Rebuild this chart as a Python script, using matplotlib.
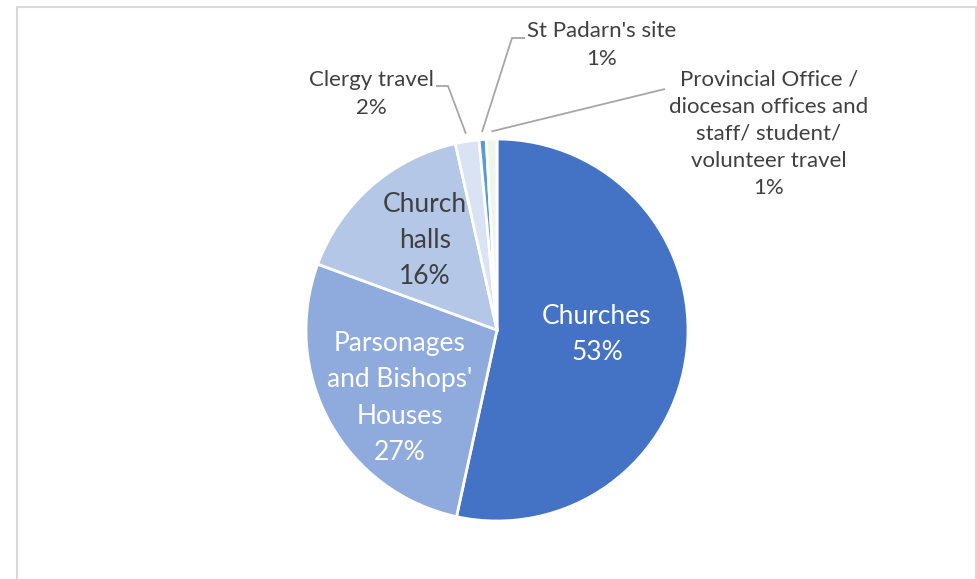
import matplotlib
matplotlib.use('Agg')
import matplotlib.pyplot as plt
from matplotlib.patches import Rectangle
import numpy as np

categories = ["Churches", "Parsonages\nand Bishops'\nHouses", "Church\nhalls",
              "Clergy travel", "St Padarn's site",
              "Provincial Office /\ndiocesan offices and\nstaff/ student/\nvolunteer travel"]
shares = [53.4, 27.2, 15.9, 2.0, 0.6, 0.9]
colors = ['#4472C4', '#8FAADC', '#B4C7E7', '#DAE3F3', '#5B9BD5', '#EEF6EA']

plt.rcParams['font.family'] = ['Lato', 'DejaVu Sans']

W, H = 978, 579
CX, CY, R = 497, 330, 191  # pie centre / radius in pixels (y from top)

fig = plt.figure(figsize=(W / 100, H / 100), dpi=100)
ax = fig.add_axes([0, 0, 1, 1])

wedges, _ = ax.pie(shares, colors=colors, startangle=90, counterclock=False,
                   radius=1, wedgeprops=dict(edgecolor='white', linewidth=2))
ax.set_xlim(-CX / R, (W - CX) / R)
ax.set_ylim(-(H - CY) / R, CY / R)
ax.set_aspect('equal')
ax.axis('off')


def px(x, y):
    return (x - CX) / R, (CY - y) / R


def pct(v):
    return '%d%%' % round(v)


# labels inside the pie
inside = {0: (597, 334, 'white'), 1: (400, 398, 'white'), 2: (425, 241, '#404040')}
for i, (x, y, c) in inside.items():
    ax.text(*px(x, y), categories[i] + '\n' + pct(shares[i]), ha='center', va='center',
            color=c, fontsize=19, linespacing=1.55)

# outside labels with leader lines
outside = {3: ((371, 94), [(436, 86), (448, 86)]),
           4: ((602, 45), [(525, 38), (512, 38)]),
           5: ((769, 134), [(665, 89)])}
for i, ((x, y), pts) in outside.items():
    ax.text(*px(x, y), categories[i] + '\n' + pct(shares[i]), ha='center', va='center',
            color='#404040', fontsize=16, linespacing=1.45)
    w = wedges[i]
    mid = np.deg2rad((w.theta1 + w.theta2) / 2)
    edge = (1.04 * np.cos(mid), 1.04 * np.sin(mid))
    line = [px(*p) for p in pts] + [edge]
    xs, ys = zip(*line)
    ax.plot(xs, ys, color='#A6A6A6', linewidth=1.3, solid_capstyle='butt')

fig.patches.append(Rectangle((17 / W, -0.05), (976 - 17) / W, 1.05 - 7 / H,
                             transform=fig.transFigure, fill=False,
                             edgecolor='#D9D9D9', linewidth=1.5))

plt.savefig('out.png', dpi=100)
plt.close()
